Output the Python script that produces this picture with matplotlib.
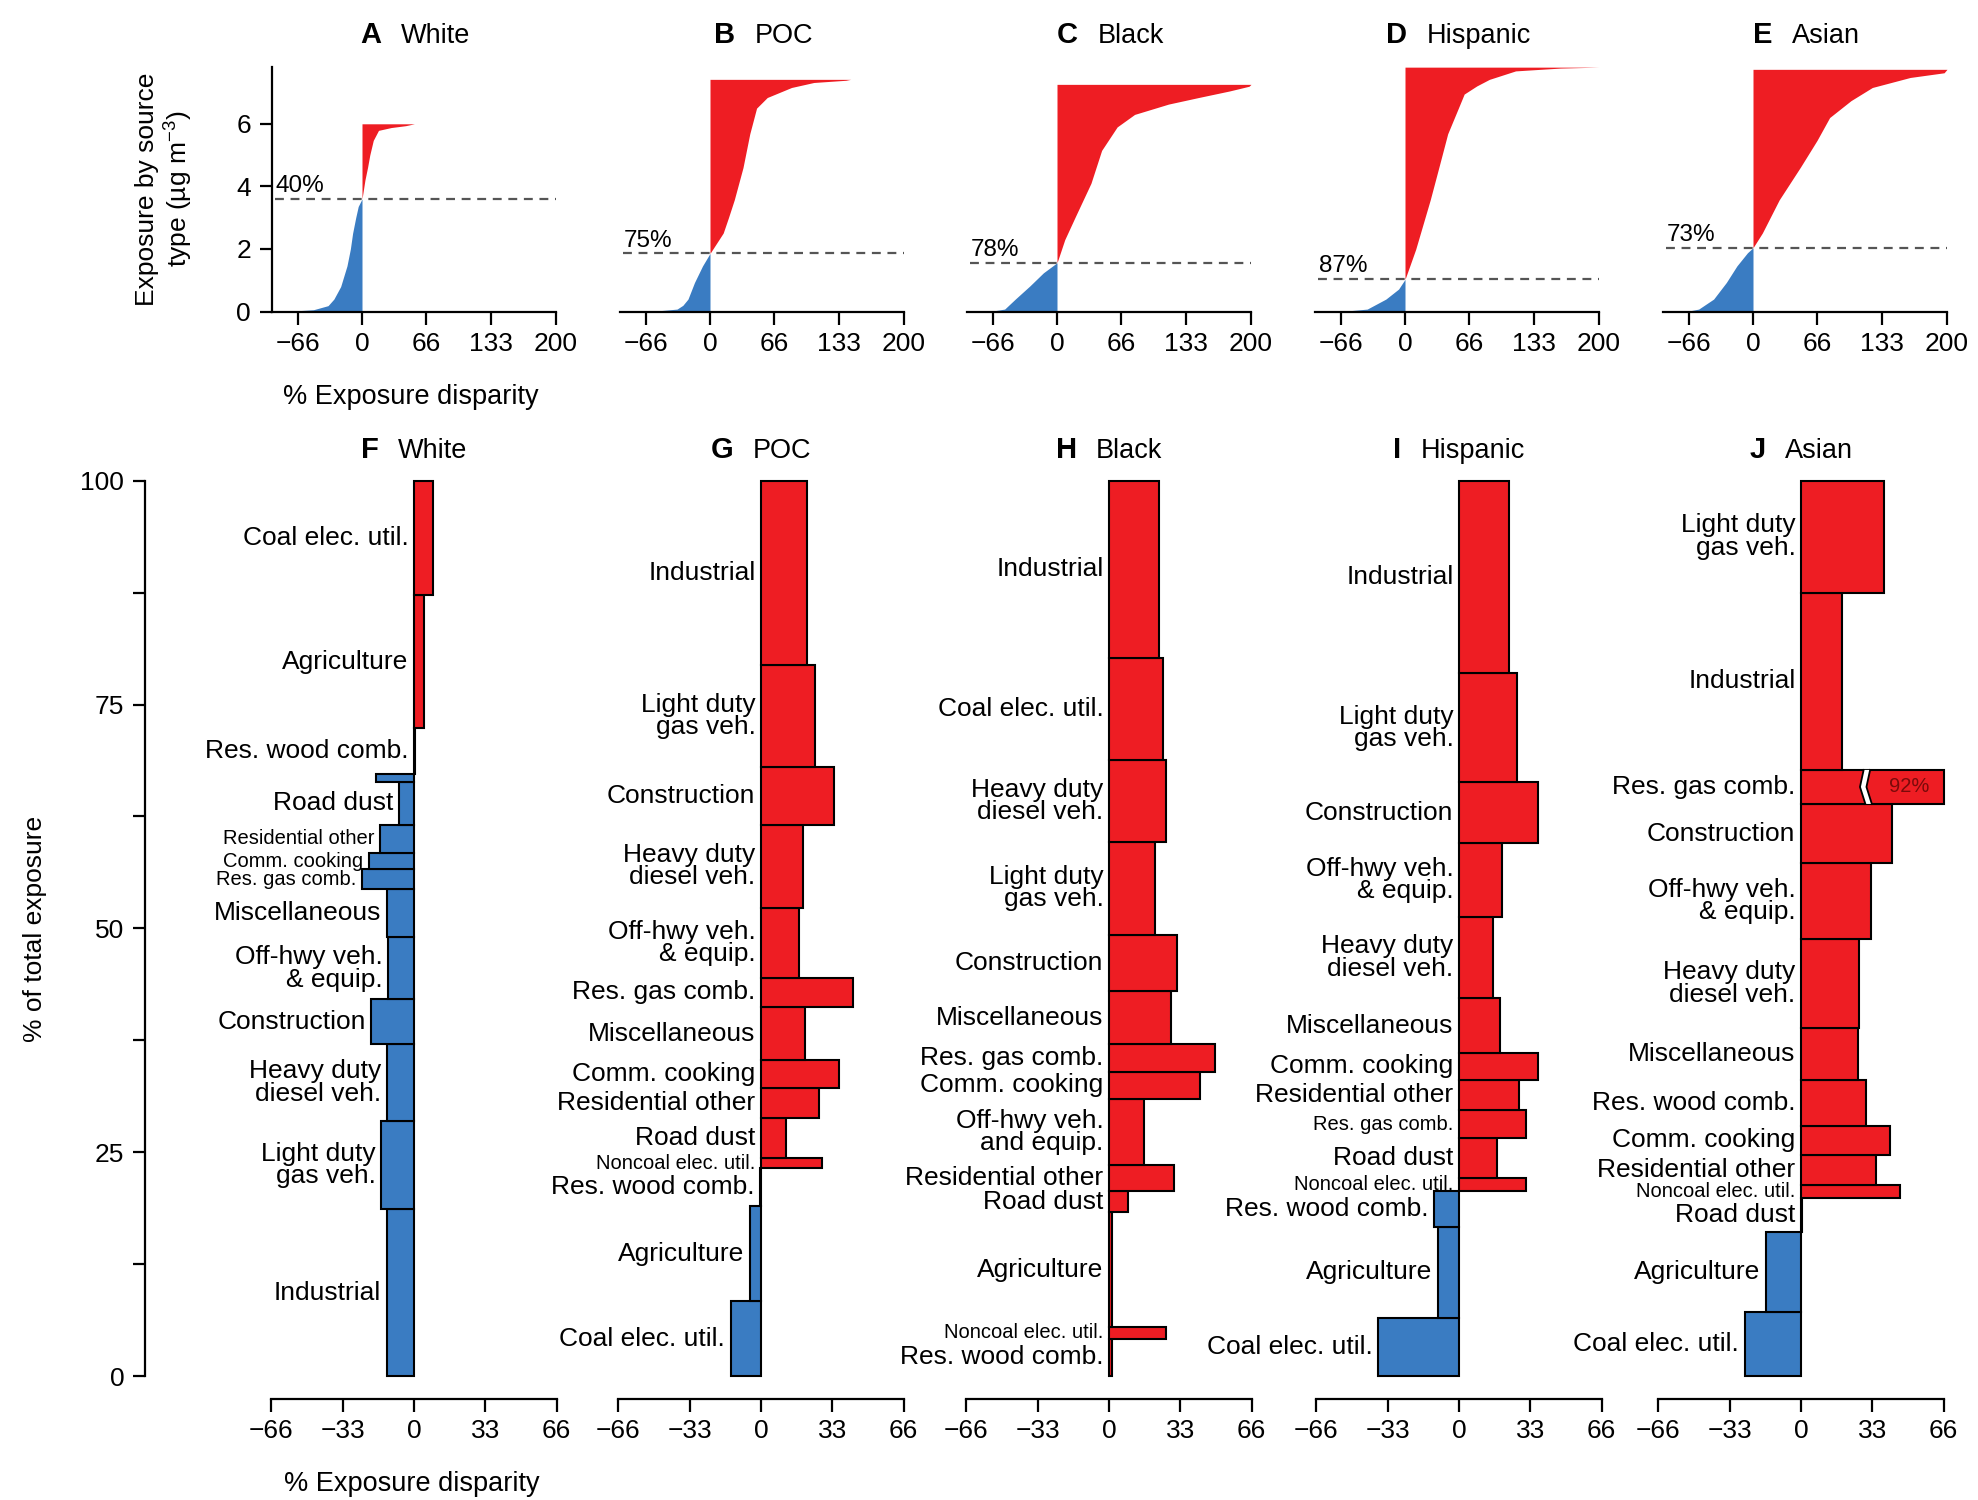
import matplotlib
matplotlib.use('Agg')
import matplotlib.pyplot as plt
from matplotlib.offsetbox import TextArea, HPacker, AnnotationBbox
from matplotlib.ticker import FixedLocator

plt.rcParams['font.family'] = ['Liberation Sans', 'DejaVu Sans']
plt.rcParams['mathtext.fontset'] = 'custom'
plt.rcParams['mathtext.rm'] = 'Liberation Sans'
plt.rcParams['mathtext.it'] = 'Liberation Sans:italic'
plt.rcParams['mathtext.bf'] = 'Liberation Sans:bold'

# ---------------- data ----------------
groups = ['White', 'POC', 'Black', 'Hispanic', 'Asian']
top_letters = ['A', 'B', 'C', 'D', 'E']
bottom_letters = ['F', 'G', 'H', 'I', 'J']
top_pct = ['40%', '75%', '78%', '87%', '73%']
top_xticks = [-66, 0, 66, 133, 200]
top_yticks = [0, 2, 4, 6]
bottom_xticks = [-66, -33, 0, 33, 66]
bottom_yticks = [0, 25, 50, 75, 100]

# Cumulative exposure (y, ug m-3) vs. exposure disparity (x, %)
A_blue_y = [0, 0.02, 0.06, 0.19, 0.4, 0.8, 1.46, 2.0, 2.5, 3.0, 3.36, 3.6]
A_blue_x = [-90, -70, -50, -35, -29, -22, -15.5, -12, -9.7, -6.5, -3.9, 0]
A_red_y = [3.6, 4.2, 4.62, 5.0, 5.47, 5.79, 5.88, 5.94, 6.0]
A_red_x = [0, 3, 5.8, 8, 11.6, 17, 30, 45, 54]

B_blue_y = [0, 0.02, 0.08, 0.2, 0.4, 0.93, 1.46, 1.86]
B_blue_x = [-80, -55, -34, -28, -22.7, -16, -7.7, 0]
B_red_y = [1.86, 2.51, 3.0, 3.57, 4.6, 5.68, 6.5, 6.84, 7.16, 7.32, 7.39, 7.42]
B_red_x = [0, 13.6, 19, 25, 34, 41, 48, 59, 84, 107, 140, 145]

C_blue_y = [0, 0.02, 0.08, 0.4, 0.82, 1.24, 1.56]
C_blue_x = [-85, -66, -54, -43, -28, -14, 0]
C_red_y = [1.56, 2.3, 3.04, 4.1, 5.15, 5.9, 6.3, 6.63, 6.84, 7.05, 7.2, 7.26]
C_red_x = [0, 8, 19, 35, 46, 62, 80, 115, 146, 178, 198, 200]

D_blue_y = [0, 0.02, 0.08, 0.4, 0.72, 1.03]
D_blue_x = [-85, -60, -39, -19.7, -6.6, 0]
D_red_y = [1.03, 1.99, 3.57, 4.62, 5.68, 6.5, 6.95, 7.21, 7.42, 7.69, 7.78, 7.81]
D_red_x = [0, 11, 26, 35, 44, 55, 61, 74, 87, 114, 160, 200]

E_blue_y = [0, 0.02, 0.08, 0.4, 0.93, 1.46, 1.88, 2.04]
E_blue_x = [-85, -66, -56, -40.6, -27.5, -16.6, -5.7, 0]
E_red_y = [2.04, 2.51, 3.57, 4.62, 5.47, 6.2, 6.74, 7.16, 7.48, 7.63, 7.74]
E_red_x = [0, 9.6, 27, 49, 66, 79, 101, 123, 162, 197, 200]

# Share of total exposure (%) and disparity (%) by source, bottom -> top
F_sources = ['Industrial', 'Light duty\ngas veh.', 'Heavy duty\ndiesel veh.', 'Construction',
             'Off-hwy veh.\n& equip.', 'Miscellaneous', 'Res. gas comb.', 'Comm. cooking',
             'Residential other', 'Road dust', '', 'Res. wood comb.', 'Agriculture',
             'Coal elec. util.']
F_share = [18.7, 9.8, 8.6, 5.0, 6.9, 5.4, 2.2, 1.8, 3.2, 4.8, 0.8, 5.2, 14.8, 12.8]
F_disp = [-12.7, -15.2, -12.7, -19.8, -11.9, -12.4, -24.2, -20.8, -15.8, -6.8, -17.8, 0.4, 4.6, 8.8]
F_small = ['Residential other', 'Comm. cooking', 'Res. gas comb.']

G_sources = ['Coal elec. util.', 'Agriculture', 'Res. wood comb.', 'Noncoal elec. util.',
             'Road dust', 'Residential other', 'Comm. cooking', 'Miscellaneous',
             'Res. gas comb.', 'Off-hwy veh.\n& equip.', 'Heavy duty\ndiesel veh.',
             'Construction', 'Light duty\ngas veh.', 'Industrial']
G_share = [8.4, 10.6, 4.2, 1.2, 4.4, 3.4, 3.1, 5.9, 3.3, 7.8, 9.3, 6.4, 11.4, 20.6]
G_disp = [-14, -5.3, -0.5, 28.4, 11.4, 26.9, 36, 20.5, 42.5, 17.8, 19.5, 33.6, 25.2, 21.1]
G_small = ['Noncoal elec. util.']

H_sources = ['Res. wood comb.', 'Noncoal elec. util.', 'Agriculture', 'Road dust',
             'Residential other', 'Off-hwy veh.\nand equip.', 'Comm. cooking',
             'Res. gas comb.', 'Miscellaneous', 'Construction', 'Light duty\ngas veh.',
             'Heavy duty\ndiesel veh.', 'Coal elec. util.', 'Industrial']
H_share = [4.2, 1.3, 12.8, 2.4, 2.9, 7.4, 3.0, 3.1, 5.9, 6.3, 10.4, 9.1, 11.4, 19.8]
H_disp = [1.5, 26.6, 1.5, 8.6, 29.9, 16.2, 42, 48.9, 28.7, 31.4, 21.5, 26.6, 25, 23]
H_small = ['Noncoal elec. util.']

I_sources = ['Coal elec. util.', 'Agriculture', 'Res. wood comb.', 'Noncoal elec. util.',
             'Road dust', 'Res. gas comb.', 'Residential other', 'Comm. cooking',
             'Miscellaneous', 'Heavy duty\ndiesel veh.', 'Off-hwy veh.\n& equip.',
             'Construction', 'Light duty\ngas veh.', 'Industrial']
I_share = [6.5, 10.2, 4.0, 1.4, 4.5, 3.1, 3.4, 3.0, 6.1, 9.1, 8.2, 6.8, 12.2, 21.5]
I_disp = [-37.5, -9.9, -11.7, 30.8, 17.5, 30.8, 27.6, 36.4, 19, 15.9, 19.7, 36.7, 27, 23.2]
I_small = ['Noncoal elec. util.', 'Res. gas comb.']

J_sources = ['Coal elec. util.', 'Agriculture', 'Road dust', 'Noncoal elec. util.',
             'Residential other', 'Comm. cooking', 'Res. wood comb.', 'Miscellaneous',
             'Heavy duty\ndiesel veh.', 'Off-hwy veh.\n& equip.', 'Construction',
             'Res. gas comb.', 'Industrial', 'Light duty\ngas veh.']
J_share = [7.2, 8.9, 3.8, 1.5, 3.3, 3.3, 5.1, 5.8, 9.9, 8.5, 6.6, 3.8, 19.8, 12.5]
J_disp = [-26.1, -16.2, 0.3, 45.9, 34.6, 41.2, 29.9, 26.6, 27, 32.5, 42.3, 92, 19.2, 38.4]
J_small = ['Noncoal elec. util.']

# ---------------- styling / layout ----------------
RED = '#EE1D23'
BLUE = '#3A7CC2'
W, H = 1978, 1500
fig = plt.figure(figsize=(W / 100, H / 100), dpi=100)


def fx(px):
    return px / W


def fy(py):
    return 1 - py / H


def add_title(letter, name, xpx, ypx):
    ta1 = TextArea(letter, textprops=dict(fontsize=21, fontweight='bold'))
    ta2 = TextArea(name, textprops=dict(fontsize=19.5))
    box = HPacker(children=[ta1, ta2], align='baseline', pad=0, sep=14)
    ab = AnnotationBbox(box, (fx(xpx), fy(ypx)), xycoords='figure fraction',
                        frameon=False, box_alignment=(0.5, 0.5))
    fig.add_artist(ab)


TICK_FS = 19
LW = 1.6

# ---- top panels ----
top_data = [(A_blue_x, A_blue_y, A_red_x, A_red_y),
            (B_blue_x, B_blue_y, B_red_x, B_red_y),
            (C_blue_x, C_blue_y, C_red_x, C_red_y),
            (D_blue_x, D_blue_y, D_red_x, D_red_y),
            (E_blue_x, E_blue_y, E_red_x, E_red_y)]
top_zero_px = [362, 710, 1057, 1405, 1753]
tpx = 0.97          # px per % unit
txl, txr = -93, 203
ty0_px, ty_top = 311.6, 7.85
ty_ppu = 31.3

for i, (bx, by, rx, ry) in enumerate(top_data):
    left = top_zero_px[i] + txl * tpx
    width = (txr - txl) * tpx
    ax = fig.add_axes([fx(left), fy(ty0_px), width / W, ty_top * ty_ppu / H])
    ax.patch.set_visible(False)
    ax.fill_betweenx(by, 0, bx, color=BLUE, lw=0)
    ax.fill_betweenx(ry, 0, rx, color=RED, lw=0)
    yline = ry[0]
    ax.plot([-90, 200], [yline, yline], ls=(0, (4, 3)), color='#555555', lw=1.6)
    ax.text(-89, yline + 0.06, top_pct[i], fontsize=17.5, ha='left', va='bottom')
    ax.set_xlim(txl, txr)
    ax.set_ylim(0, ty_top)
    for s in ['top', 'right']:
        ax.spines[s].set_visible(False)
    ax.spines['bottom'].set_bounds(txl, 200)
    ax.spines['bottom'].set_linewidth(LW)
    ax.set_xticks(top_xticks)
    ax.set_xticklabels([str(t) if t >= 0 else '\u2212' + str(-t) for t in top_xticks])
    ax.tick_params(axis='x', direction='out', length=9, width=LW, labelsize=TICK_FS, pad=6)
    if i == 0:
        ax.spines['left'].set_linewidth(LW)
        ax.spines['left'].set_bounds(0, 7.8)
        ax.set_yticks(top_yticks)
        ax.tick_params(axis='y', direction='out', length=9, width=LW, labelsize=TICK_FS, pad=6)
    else:
        ax.spines['left'].set_visible(False)
        ax.set_yticks([])
    cx = top_zero_px[i] + (txl + txr) / 2 * tpx
    add_title(top_letters[i], groups[i], cx, 35)

fig.text(fx(165), fy(189), 'Exposure by source\ntype (\u00b5g m$^{-3}$)', rotation=90,
         ha='center', va='center', fontsize=19, linespacing=1.15)
fig.text(fx(411), fy(397), '% Exposure disparity', ha='center', va='center', fontsize=19.5)

# ---- bottom panels ----
bottom_data = [(F_sources, F_share, F_disp, F_small),
               (G_sources, G_share, G_disp, G_small),
               (H_sources, H_share, H_disp, H_small),
               (I_sources, I_share, I_disp, I_small),
               (J_sources, J_share, J_disp, J_small)]
bot_zero_px = [414, 761, 1109, 1459, 1801]
bpx = 2.16
bxl, bxr = -68, 68
by0_px, by100_px = 1376.3, 480.6

for i, (src, share, disp, small) in enumerate(bottom_data):
    left = bot_zero_px[i] + bxl * bpx
    width = (bxr - bxl) * bpx
    ax = fig.add_axes([fx(left), fy(by0_px), width / W, (by0_px - by100_px) / H])
    ax.patch.set_visible(False)
    bottom = 0.0
    for name, h, v in zip(src, share, disp):
        w = min(v, 66)
        ax.barh(bottom, w, height=h, left=0, align='edge',
                color=RED if v > 0 else BLUE, edgecolor='black', linewidth=1.5,
                clip_on=False, zorder=2)
        if v > 66:
            # broken bar
            xs_l = [29, 27.3, 29.8]
            xs_r = [32, 30.3, 32.8]
            ys = [bottom + h, bottom + h / 2, bottom]
            ax.fill(xs_l + xs_r[::-1], ys + ys[::-1], color='white', zorder=3, lw=0)
            ax.plot(xs_l, ys, color='black', lw=1.3, zorder=4)
            ax.plot(xs_r, ys, color='black', lw=1.3, zorder=4)
            ax.text(50, bottom + h / 2, '%d%%' % round(v), color='#7a0a0a', fontsize=14.5,
                    ha='center', va='center', zorder=5)
        if name:
            fs = 14.5 if name in small else 19
            ax.annotate(name, xy=(min(0, v), bottom + h / 2), xytext=(-4, 0),
                        textcoords='offset points', ha='right', va='center',
                        fontsize=fs, linespacing=0.92, multialignment='right', zorder=1)
        bottom += h
    ax.set_xlim(bxl, bxr)
    ax.set_ylim(0, 100)
    for s in ['top', 'right', 'left']:
        ax.spines[s].set_visible(False)
    ax.spines['bottom'].set_position(('outward', 16))
    ax.spines['bottom'].set_bounds(-66, 66)
    ax.spines['bottom'].set_linewidth(LW)
    ax.set_xticks(bottom_xticks)
    ax.set_xticklabels([str(t) if t >= 0 else '\u2212' + str(-t) for t in bottom_xticks])
    ax.tick_params(axis='x', direction='out', length=9, width=LW, labelsize=TICK_FS, pad=6)
    ax.set_yticks([])
    add_title(bottom_letters[i], groups[i], bot_zero_px[i], 450)

# shared y axis for bottom panels
ay = fig.add_axes([fx(145), fy(by0_px), 0.0005, (by0_px - by100_px) / H])
ay.patch.set_visible(False)
for s in ['top', 'right', 'bottom']:
    ay.spines[s].set_visible(False)
ay.spines['left'].set_linewidth(LW)
ay.set_ylim(0, 100)
ay.set_xticks([])
ay.set_yticks(bottom_yticks)
ay.yaxis.set_minor_locator(FixedLocator([12.5, 37.5, 62.5, 87.5]))
ay.tick_params(axis='y', which='both', direction='out', length=9, width=LW,
               labelsize=TICK_FS, pad=6)
fig.text(fx(35), fy((by0_px + by100_px) / 2), '% of total exposure', rotation=90,
         ha='center', va='center', fontsize=19)
fig.text(fx(412), fy(1484), '% Exposure disparity', ha='center', va='center', fontsize=19.5)

fig.savefig('out.png', dpi=100)
